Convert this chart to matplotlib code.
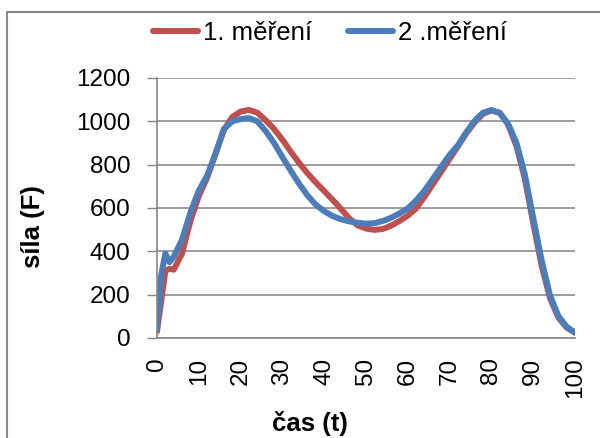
import matplotlib.pyplot as plt
from matplotlib.patches import Rectangle

plt.rcParams['font.family'] = ['Liberation Sans', 'DejaVu Sans']

# time samples
cas = [0, 1, 2, 3, 4, 6, 8, 10, 12, 14, 16, 18, 20, 22, 24, 26, 28, 30, 32, 34,
       36, 38, 40, 42, 44, 46, 48, 50, 52, 54, 56, 58, 60, 62, 64, 66, 68, 70,
       72, 74, 76, 78, 80, 82, 84, 86, 88, 90, 92, 94, 96, 98, 100]

# force, first measurement
mereni_1 = [30, 170, 310, 320, 315, 390, 540, 655, 740, 850, 960, 1020, 1045,
            1053, 1040, 1005, 965, 915, 860, 808, 760, 718, 678, 638, 596, 552,
            520, 505, 499, 503, 518, 540, 565, 598, 652, 710, 768, 827, 885,
            945, 995, 1035, 1050, 1040, 985, 885, 735, 530, 335, 185, 95, 48, 25]

# force, second measurement
mereni_2 = [40, 290, 390, 350, 375, 455, 580, 680, 750, 850, 965, 1000, 1010,
            1015, 1000, 955, 900, 835, 772, 712, 658, 615, 585, 563, 548, 538,
            532, 528, 530, 540, 555, 575, 598, 635, 680, 735, 790, 845, 890,
            950, 1003, 1040, 1052, 1038, 988, 900, 755, 555, 360, 198, 102, 52, 24]

x_ticks = list(range(0, 101, 10))
y_ticks = list(range(0, 1201, 200))

fig = plt.figure(figsize=(6, 4.38), dpi=100)
ax = fig.add_axes([157 / 600, 1 - 338 / 438, 418 / 600, 260 / 438])

ax.plot(cas, mereni_1, color='#C0504D', linewidth=4.3, label='1. měření',
        solid_capstyle='round', solid_joinstyle='round')
ax.plot(cas, mereni_2, color='#4A7EBB', linewidth=4.3, label='2 .měření',
        solid_capstyle='round', solid_joinstyle='round')

ax.set_xlim(0, 100)
ax.set_ylim(0, 1200)
ax.set_xticks(x_ticks)
ax.set_xticklabels([str(t) for t in x_ticks], rotation=90)
ax.set_yticks(y_ticks)
ax.tick_params(axis='x', length=0, pad=14, labelsize=17.5)
ax.tick_params(axis='y', length=7, width=1, color='#868686', pad=12, labelsize=17.5)
ax.grid(axis='y', color='#8c8c8c', linewidth=1.2)
ax.set_axisbelow(True)
for side in ['top', 'right']:
    ax.spines[side].set_visible(False)
for side in ['left', 'bottom']:
    ax.spines[side].set_color('#868686')
    ax.spines[side].set_linewidth(1.2)

fig.text(310 / 600, 1 - 424 / 438, 'čas (t)', ha='center', va='center',
         fontsize=18.5, fontweight='bold')
fig.text(33 / 600, 1 - 227 / 438, 'síla (F)', ha='center', va='center',
         rotation=90, fontsize=18.5, fontweight='bold')

ax.legend(loc='center', bbox_to_anchor=(330 / 600, 1 - 33 / 438),
          bbox_transform=fig.transFigure, ncol=2, frameon=False,
          fontsize=18.5, handlelength=1.75, handletextpad=0.2,
          columnspacing=1.4, borderaxespad=0)

# chart frame
fig.patches.append(Rectangle((6.5 / 600, -0.1), 1.2, 1 - 11.5 / 438 + 0.1,
                             transform=fig.transFigure, fill=False,
                             edgecolor='#868686', linewidth=1.5))

fig.savefig('out.png', dpi=100)
